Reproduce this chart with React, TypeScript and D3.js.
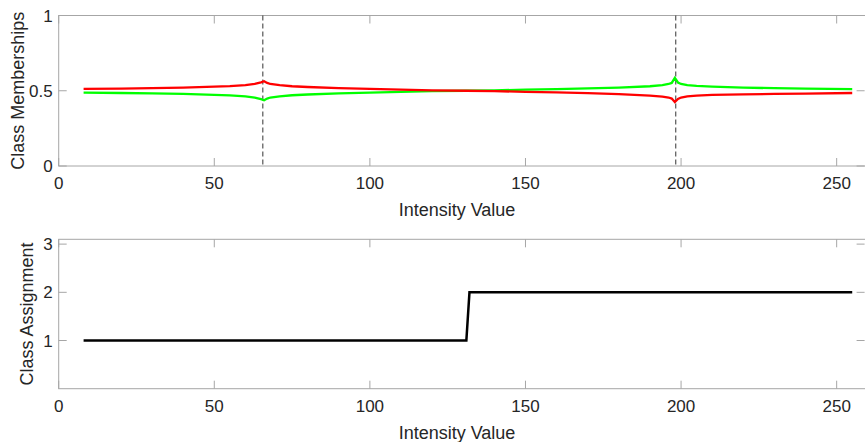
import React, { useEffect, useRef } from 'react';
import * as d3 from 'd3';

// intensity samples
const intensity = [8, 20, 30, 40, 50, 55, 60, 63, 65, 66, 67, 68, 71, 75, 80, 90, 100, 110, 120, 131,
  140, 150, 160, 170, 180, 190, 194, 196, 197, 198, 199, 200, 202, 205, 210, 220, 230, 240, 255];
const class1Membership = [0.512, 0.514, 0.517, 0.521, 0.527, 0.531, 0.538, 0.545, 0.556, 0.563, 0.552, 0.545, 0.537, 0.530, 0.525, 0.518, 0.512, 0.507, 0.503, 0.500,
  0.497, 0.493, 0.489, 0.484, 0.477, 0.468, 0.461, 0.455, 0.448, 0.425, 0.445, 0.455, 0.463, 0.468, 0.472, 0.476, 0.479, 0.481, 0.485];
const class2Membership = [0.487, 0.485, 0.482, 0.479, 0.473, 0.469, 0.462, 0.455, 0.444, 0.437, 0.448, 0.455, 0.463, 0.470, 0.475, 0.482, 0.488, 0.493, 0.497, 0.500,
  0.503, 0.507, 0.511, 0.516, 0.521, 0.530, 0.537, 0.545, 0.552, 0.585, 0.555, 0.545, 0.537, 0.532, 0.527, 0.521, 0.517, 0.514, 0.511];
const clusterCenters = [65.6, 198.3];

// class assignment (bottom panel)
const assignIntensity = [8, 131, 132, 255];
const assignClass = [1, 1, 2, 2];

const xTicks = [0, 50, 100, 150, 200, 250];
const yTicksTop = [0, 0.5, 1];
const yTicksBottom = [1, 2, 3];

const W = 865;
const H = 442;

const App = () => {
  const svgRef = useRef(null);

  useEffect(() => {
    document.body.style.margin = '0';
    const svg = d3.select(svgRef.current);
    svg.selectAll('*').remove();

    const left = 58.7;
    const right = 865.6; // right edge of the axes box falls just off the page
    const font = '"Liberation Sans", Arial, Helvetica, sans-serif';
    const tickLen = 8;

    const x = d3.scaleLinear().domain([0, 259.3]).range([left, right]);

    const drawPanel = (top, bottom, y, yTicks, yFmt, yLabel, yLabelX) => {
      const g = svg.append('g');

      // box
      g.append('rect')
        .attr('x', left).attr('y', top)
        .attr('width', right - left).attr('height', bottom - top)
        .attr('fill', 'none').attr('stroke', '#a6a6a6').attr('stroke-width', 1);

      // x ticks, inward on bottom and top
      xTicks.forEach(t => {
        const px = x(t);
        g.append('line').attr('x1', px).attr('x2', px).attr('y1', bottom).attr('y2', bottom - tickLen)
          .attr('stroke', '#a6a6a6');
        g.append('line').attr('x1', px).attr('x2', px).attr('y1', top).attr('y2', top + tickLen)
          .attr('stroke', '#a6a6a6');
        g.append('text').attr('x', px).attr('y', bottom + 23)
          .attr('text-anchor', 'middle').attr('font-family', font).attr('font-size', 17)
          .attr('fill', '#262626').text(t);
      });

      // y ticks, inward on left and right
      yTicks.forEach(t => {
        const py = y(t);
        g.append('line').attr('x1', left).attr('x2', left + tickLen).attr('y1', py).attr('y2', py)
          .attr('stroke', '#a6a6a6');
        g.append('line').attr('x1', right - 1).attr('x2', right - 1 - tickLen).attr('y1', py).attr('y2', py)
          .attr('stroke', '#a6a6a6');
        g.append('text').attr('x', left - 6).attr('y', py + 6)
          .attr('text-anchor', 'end').attr('font-family', font).attr('font-size', 17)
          .attr('fill', '#262626').text(yFmt(t));
      });

      g.append('text')
        .attr('x', 457).attr('y', bottom + 50)
        .attr('text-anchor', 'middle').attr('font-family', font).attr('font-size', 18)
        .attr('fill', '#262626').text('Intensity Value');

      g.append('text')
        .attr('transform', `translate(${yLabelX},${(top + bottom) / 2}) rotate(-90)`)
        .attr('text-anchor', 'middle').attr('font-family', font).attr('font-size', 18)
        .attr('fill', '#262626').text(yLabel);

      return g;
    };

    // top panel: memberships
    const top1 = 15.5, bot1 = 166;
    const y1 = d3.scaleLinear().domain([0, 1]).range([bot1, top1]);
    const g1 = drawPanel(top1, bot1, y1, yTicksTop, d => String(d), 'Class Memberships', 24);

    clusterCenters.forEach(c => {
      g1.append('line')
        .attr('x1', x(c)).attr('x2', x(c)).attr('y1', top1).attr('y2', bot1)
        .attr('stroke', '#333').attr('stroke-width', 1).attr('stroke-dasharray', '5,3');
    });

    const line1 = d3.line().x(d => x(d[0])).y(d => y1(d[1]));
    g1.append('path')
      .datum(intensity.map((v, i) => [v, class2Membership[i]]))
      .attr('d', line1).attr('fill', 'none').attr('stroke', '#00ff00').attr('stroke-width', 2.3);
    g1.append('path')
      .datum(intensity.map((v, i) => [v, class1Membership[i]]))
      .attr('d', line1).attr('fill', 'none').attr('stroke', '#ff0000').attr('stroke-width', 2.3);

    // bottom panel: assignment
    const top2 = 239.3, bot2 = 388.7;
    const y2 = d3.scaleLinear().domain([0, 3.1]).range([bot2, top2]);
    const g2 = drawPanel(top2, bot2, y2, yTicksBottom, d => String(d), 'Class Assignment', 33);

    const line2 = d3.line().x(d => x(d[0])).y(d => y2(d[1]));
    g2.append('path')
      .datum(assignIntensity.map((v, i) => [v, assignClass[i]]))
      .attr('d', line2).attr('fill', 'none').attr('stroke', '#000').attr('stroke-width', 2.5);
  }, []);

  return (
    <div style={{ position: 'absolute', left: 0, top: 0 }}>
      <svg ref={svgRef} width={W} height={H} style={{ display: 'block', background: '#fff' }}></svg>
    </div>
  );
};

export default App;
